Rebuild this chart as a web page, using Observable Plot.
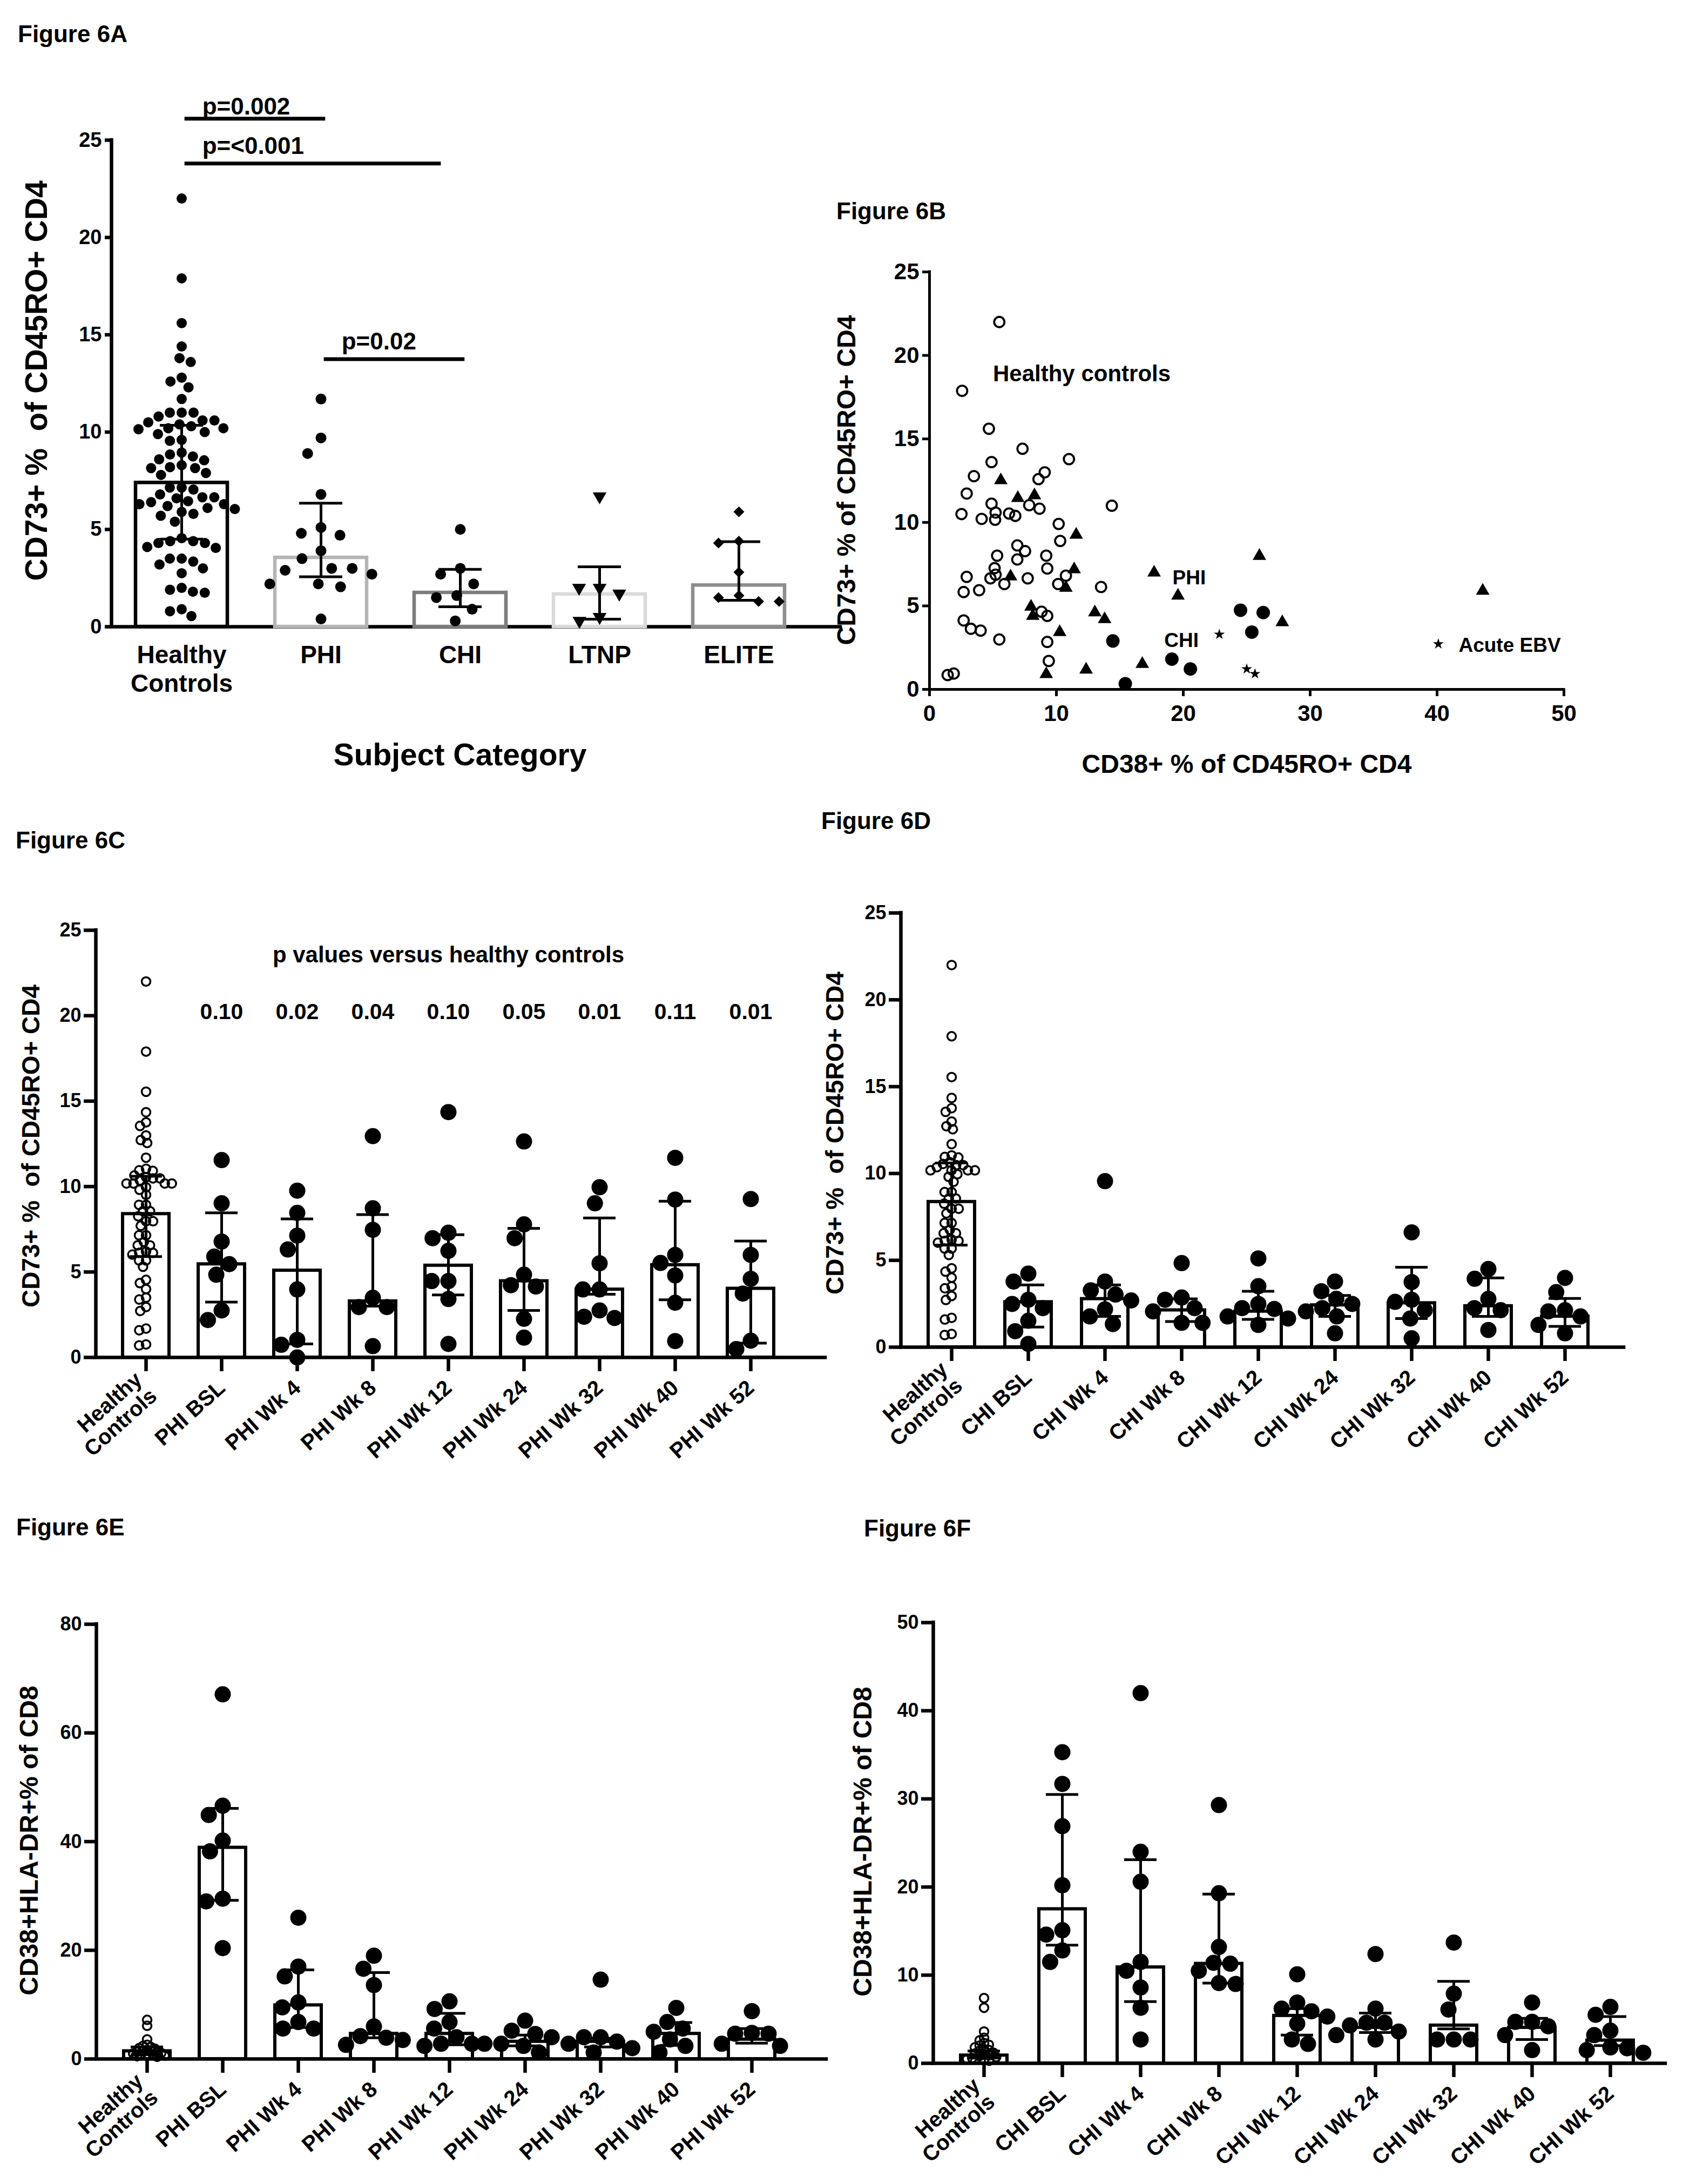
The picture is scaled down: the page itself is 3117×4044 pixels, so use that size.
<!DOCTYPE html>
<html>
<head>
<meta charset="utf-8">
<title>Figure 6</title>
<script src="https://cdn.jsdelivr.net/npm/d3@7"></script>
<script src="https://cdn.jsdelivr.net/npm/@observablehq/plot@0.6"></script>
<style>
  html, body { margin: 0; padding: 0; background: #ffffff; }
  #page { position: relative; width: 3117px; height: 4044px; background: #ffffff; overflow: hidden;
          font-family: 'Liberation Sans', Arial, Helvetica, sans-serif; color: #000; }
  #page svg text { font-weight: bold; }
</style>
</head>
<body>
<div id="page"></div>
<script>
// ======================= DATA =======================
// ---- Figure 6A ----
const catsA = ["Healthy\nControls", "PHI", "CHI", "LTNP", "ELITE"];
const hcA = [22.0, 17.9, 15.6, 14.4, 13.8, 13.6, 12.8, 12.6, 12.3, 11.7, 11.0, 11.0, 11.0, 10.8, 10.6, 10.6, 10.5, 10.4, 10.3, 10.2, 10.2, 10.15, 10.0, 9.9, 9.6, 9.55, 8.95, 8.85, 8.75, 8.6, 8.55, 8.3, 8.2, 8.15, 8.15, 7.9, 7.8, 7.15, 7.15, 7.05, 6.8, 6.65, 6.65, 6.6, 6.45, 6.4, 6.3, 6.3, 6.2, 6.1, 6.05, 5.9, 5.8, 5.7, 5.4, 4.55, 4.4, 4.4, 4.3, 4.3, 4.1, 4.05, 3.5, 3.5, 3.35, 3.2, 3.0, 2.75, 2.0, 1.9, 1.8, 1.75, 0.9, 0.8, 0.55];
const phiA = [11.7, 9.7, 8.9, 6.8, 5.1, 4.8, 4.7, 3.9, 3.5, 3.0, 3.0, 2.9, 2.7, 2.2, 2.2, 2.05, 0.4];
const chiA = [5.0, 3.0, 2.7, 2.2, 1.6, 1.5, 0.9, 0.3];
const ltnpA = [6.7, 2.0, 2.0, 1.7, 0.5, 0.3];
const eliteA = [5.9, 4.4, 4.3, 2.8, 1.6, 1.5, 1.3, 1.3];
const barA = [7.4, 3.55, 1.75, 1.67, 2.13];
const errLoA = [4.5, 2.57, 1.03, 0.39, 1.36];
const errHiA = [10.35, 6.35, 2.95, 3.08, 4.37];
const sigLabelA = ["p=0.002", "p=<0.001", "p=0.02"];
const sigFromA = [0.02, 0.02, 1.02];
const sigToA = [1.03, 1.86, 2.03];
const sigYA = [26.1, 23.8, 13.75];
const sigTextYA = [26.32, 24.3, 14.24];

// ---- Figure 6B ----
const hcBx = [5.5, 2.57, 4.68, 7.33, 10.99, 4.89, 9.08, 3.5, 8.59, 2.93, 14.37, 4.89, 7.86, 8.67, 2.52, 5.21, 6.27, 6.76, 4.11, 5.17, 10.18, 10.3, 6.92, 7.53, 5.33, 9.2, 6.92, 5.13, 9.28, 2.93, 4.8, 5.21, 7.74, 10.75, 5.9, 10.14, 13.52, 3.91, 2.69, 8.83, 9.28, 2.69, 3.26, 4.03, 5.5, 9.28, 9.4, 1.43, 1.91];
const hcBy = [22.0, 17.88, 15.61, 14.41, 13.79, 13.61, 13.0, 12.77, 12.59, 11.73, 11.0, 11.12, 11.03, 10.82, 10.5, 10.59, 10.53, 10.39, 10.21, 10.16, 9.91, 8.89, 8.62, 8.28, 8.01, 8.01, 7.78, 7.26, 7.24, 6.74, 6.65, 6.87, 6.65, 6.81, 6.31, 6.31, 6.13, 5.94, 5.83, 4.65, 4.4, 4.13, 3.63, 3.52, 2.99, 2.84, 1.7, 0.86, 0.95];
const phiBx = [5.62, 6.96, 8.27, 11.56, 26.0, 11.4, 17.7, 6.39, 10.75, 19.58, 43.6, 8.0, 8.14, 13.03, 13.8, 27.8, 10.26, 9.2, 12.34, 16.77];
const phiBy = [12.52, 11.46, 11.62, 9.26, 7.99, 7.19, 6.99, 6.76, 6.08, 5.61, 5.9, 4.95, 4.4, 4.61, 4.2, 4.02, 3.43, 0.91, 1.18, 1.52];
const chiBx = [14.45, 15.43, 19.1, 20.56, 24.51, 26.3, 25.4];
const chiBy = [2.9, 0.34, 1.81, 1.22, 4.74, 4.6, 3.43];
const ebvBx = [22.84, 25.0, 25.65];
const ebvBy = [3.29, 1.22, 0.93];
const annTextB = ["Healthy controls", "PHI", "CHI", "Acute EBV"];
const annXB = [5.0, 19.15, 18.5, 41.7];
const annYB = [18.9, 6.66, 2.91, 2.62];
const legendStarB = {x: 40.1, y: 2.72};

// ---- shared healthy controls (6C, 6D) ----
const hcCD = [22.0, 17.9, 15.55, 14.35, 13.76, 13.55, 12.99, 12.72, 12.55, 11.69, 11.04, 10.95, 10.92, 10.65, 10.55, 10.48, 10.48, 10.36, 10.18, 10.18, 10.18, 10.18, 9.96, 9.81, 9.52, 8.93, 8.93, 8.56, 8.56, 8.26, 7.97, 7.97, 7.7, 7.15, 7.15, 6.76, 6.56, 6.56, 6.2, 6.12, 6.12, 6.02, 5.68, 5.68, 5.31, 4.54, 4.35, 4.0, 3.5, 3.39, 2.95, 2.72, 1.69, 1.59, 0.76, 0.7];

// ---- Figure 6C ----
const catsC = ["Healthy\nControls", "PHI BSL", "PHI Wk 4", "PHI Wk 8", "PHI Wk 12", "PHI Wk 24", "PHI Wk 32", "PHI Wk 40", "PHI Wk 52"];
const phiC = [
  [11.55, 9.02, 6.78, 5.9, 5.46, 4.84, 2.75, 2.19],
  [9.76, 8.46, 7.13, 6.32, 3.98, 1.03, 0.74, 0.0],
  [12.95, 8.73, 7.47, 3.49, 2.95, 2.95, 0.66],
  [14.36, 7.3, 6.98, 6.24, 4.47, 4.47, 3.42, 0.79],
  [12.64, 7.79, 6.98, 4.84, 4.23, 4.15, 2.26, 1.16],
  [9.96, 9.02, 5.51, 3.98, 3.98, 2.75, 2.38, 2.31],
  [11.68, 9.24, 6.0, 5.53, 4.8, 3.2, 0.96],
  [9.27, 6.0, 4.6, 3.74, 0.98, 0.49]
];
const barC = [8.4, 5.46, 5.09, 3.29, 5.38, 4.47, 3.98, 5.41, 4.03];
const errLoC = [5.9, 3.24, 0.79, 3.0, 3.66, 2.75, 3.7, 3.37, 0.84];
const errHiC = [10.6, 8.46, 8.11, 8.36, 7.18, 7.55, 8.16, 9.14, 6.81];
const pHeaderC = "p values versus healthy controls";
const pValuesC = ["0.10", "0.02", "0.04", "0.10", "0.05", "0.01", "0.11", "0.01"];

// ---- Figure 6D ----
const catsD = ["Healthy\nControls", "CHI BSL", "CHI Wk 4", "CHI Wk 8", "CHI Wk 12", "CHI Wk 24", "CHI Wk 32", "CHI Wk 40", "CHI Wk 52"];
const chiD = [
  [4.24, 3.78, 2.73, 2.49, 2.25, 1.52, 0.92, 0.19],
  [9.56, 3.78, 3.27, 3.03, 2.69, 2.18, 1.77, 1.33],
  [4.84, 2.86, 2.73, 2.25, 2.06, 1.4, 1.4],
  [5.11, 3.51, 2.49, 2.25, 2.2, 1.77, 1.65, 1.28],
  [3.78, 3.22, 2.78, 2.49, 2.25, 2.06, 1.77, 0.8],
  [6.61, 3.75, 2.73, 2.61, 2.13, 1.65, 0.51],
  [4.5, 3.94, 2.78, 2.25, 2.13, 0.99],
  [3.99, 3.17, 2.13, 2.06, 1.77, 1.28, 0.8]
];
const barD = [8.37, 2.6, 2.78, 2.13, 2.06, 2.42, 2.54, 2.37, 1.77];
const errLoD = [5.88, 1.16, 1.77, 1.48, 1.6, 1.77, 1.65, 1.77, 1.2];
const errHiD = [10.6, 3.58, 3.58, 2.78, 3.22, 2.98, 4.6, 3.99, 2.81];

// ---- Figure 6E ----
const catsE = ["Healthy\nControls", "PHI BSL", "PHI Wk 4", "PHI Wk 8", "PHI Wk 12", "PHI Wk 24", "PHI Wk 32", "PHI Wk 40", "PHI Wk 52"];
const hcE = [7.2, 6.1, 3.6, 2.6, 2.4, 2.2, 2.0, 1.9, 1.7, 1.5, 1.4, 1.3, 1.2, 1.1, 1.0, 0.9, 0.8, 0.7, 0.6, 0.5, 0.4];
const phiE = [
  [67.1, 46.6, 44.9, 40.2, 38.2, 29.5, 29.0, 20.4],
  [26.0, 17.0, 15.2, 10.4, 9.5, 6.8, 5.6, 5.6],
  [19.0, 16.6, 13.6, 6.0, 4.2, 3.9, 3.5, 2.6],
  [10.6, 9.2, 6.8, 5.6, 4.0, 2.8, 2.8, 2.4],
  [7.05, 5.2, 4.6, 4.0, 2.8, 2.8, 2.4, 1.2],
  [14.6, 4.0, 4.0, 3.2, 2.8, 2.0, 1.2],
  [9.4, 6.8, 5.6, 5.0, 3.6, 2.4, 1.2],
  [8.8, 4.8, 4.65, 4.65, 2.8, 2.4]
];
const barE = [1.45, 38.9, 9.9, 4.65, 4.65, 3.2, 3.2, 4.65, 3.6];
const errLoE = [0.8, 29.2, 5.8, 3.9, 2.6, 2.4, 2.2, 2.5, 2.9];
const errHiE = [2.2, 46.1, 16.4, 15.9, 8.4, 4.4, 3.8, 6.7, 5.6];

// ---- Figure 6F ----
const catsF = ["Healthy\nControls", "CHI BSL", "CHI Wk 4", "CHI Wk 8", "CHI Wk 12", "CHI Wk 24", "CHI Wk 32", "CHI Wk 40", "CHI Wk 52"];
const hcF = [7.4, 6.3, 3.6, 2.9, 2.6, 2.3, 2.1, 2.0, 1.8, 1.6, 1.5, 1.4, 1.2, 1.1, 1.0, 0.9, 0.8, 0.7, 0.6, 0.5, 0.4, 0.3];
const chiF = [
  [35.3, 31.7, 26.9, 20.2, 15.1, 14.6, 12.8, 11.5],
  [42.0, 24.0, 20.6, 11.5, 10.5, 8.6, 6.3, 2.7],
  [29.3, 19.3, 13.2, 11.4, 11.3, 10.5, 9.1, 9.0],
  [10.1, 6.9, 6.2, 5.9, 5.3, 4.5, 2.7, 2.2],
  [12.4, 6.2, 4.6, 4.6, 4.3, 3.6, 3.2, 2.7],
  [13.7, 7.9, 6.1, 2.7, 2.7, 2.7],
  [6.9, 4.7, 4.7, 4.2, 3.2, 1.5],
  [6.4, 5.5, 3.7, 3.2, 1.8, 1.7, 1.5, 1.2]
];
const barF = [0.9, 17.5, 10.9, 11.3, 5.4, 4.05, 4.3, 4.05, 2.6];
const errLoF = [0.6, 13.4, 7.0, 9.1, 3.2, 3.5, 3.9, 2.7, 2.0];
const errHiF = [1.4, 30.5, 23.1, 19.2, 6.2, 5.7, 9.3, 5.1, 5.3];

// ======================= STYLE / LAYOUT =======================
const FONT = "'Liberation Sans', Arial, Helvetica, sans-serif";
const barStrokeA = ["#000000", "#b5b5b5", "#7d7d7d", "#dadada", "#8e8e8e"];
const triangleDown = {
  draw(ctx, size) {
    const y = -Math.sqrt(size / (Math.sqrt(3) * 3));
    ctx.moveTo(0, -y * 2);
    ctx.lineTo(-Math.sqrt(3) * y, y);
    ctx.lineTo(Math.sqrt(3) * y, y);
    ctx.closePath();
  }
};
const page = document.getElementById("page");

function place(svg, left, top, w, h) {
  const d = document.createElement("div");
  d.style.cssText = `position:absolute;left:${left}px;top:${top}px;width:${w}px;height:${h}px;`;
  d.appendChild(svg);
  page.appendChild(d);
}
function label(text, x, y, size, opt = {}) {
  const d = document.createElement("div");
  d.textContent = text;
  const tx = opt.anchor === "start" ? "0" : "-50%";
  d.style.cssText = `position:absolute;left:${x}px;top:${y}px;font-family:${FONT};font-weight:bold;font-size:${size}px;` +
    `white-space:pre;line-height:1;transform:translate(${tx},-50%)${opt.rotate ? ` rotate(${opt.rotate}deg)` : ""};`;
  page.appendChild(d);
}
const svgStyle = {fontFamily: FONT, color: "black", background: "transparent", overflow: "visible", maxWidth: "none"};

// deterministic beeswarm layout (pixel offsets) so points in a column do not overlap
function swarm(vals, gap, pxPerY) {
  const order = d3.range(vals.length).sort((a, b) => vals[b] - vals[a] || a - b);
  const placed = [], out = new Array(vals.length).fill(0);
  for (const i of order) {
    const y = vals[i] * pxPerY;
    const near = placed.filter(p => Math.abs(p.y - y) < gap);
    const cands = [0];
    for (const p of near) {
      const dx = Math.sqrt(gap * gap - (p.y - y) ** 2);
      cands.push(p.x - dx, p.x + dx);
    }
    cands.sort((a, b) => Math.abs(a) - Math.abs(b) || a - b);
    let best = 0;
    for (const c of cands) {
      if (near.every(p => (p.x - c) ** 2 + (p.y - y) ** 2 >= gap * gap - 0.01)) { best = c; break; }
    }
    placed.push({x: best, y});
    out[i] = best;
  }
  return out;
}

function barPanel(o) {
  const n = o.cats.length;
  const pxY = (o.y0 - o.yTop) / o.yMax;
  const xmin = (o.axisX - o.hc) / o.step;
  const xmax = (o.axisEnd - o.hc) / o.step;
  const bh = o.barHalf / o.step, ch = o.capHalf / o.step;
  const rows = o.cats.map((c, i) => ({i, bar: o.bar[i], lo: o.lo[i], hi: o.hi[i], stroke: o.barStroke ? o.barStroke[i] : "black"}));
  const marks = [
    Plot.ruleY([0], {x1: xmin, x2: xmax, stroke: "black", strokeWidth: o.axisW, strokeLinecap: "square"}),
    Plot.ruleX([xmin], {y1: 0, y2: o.yMax, stroke: "black", strokeWidth: o.axisW, strokeLinecap: "square"}),
    Plot.rect(rows, {x1: d => d.i - bh, x2: d => d.i + bh, y1: 0, y2: "bar", fill: "white", stroke: "stroke", strokeWidth: o.barW})
  ];
  o.groups.forEach((vals, gi) => {
    const st = o.marker(gi);
    const offs = swarm(vals, st.spacing, pxY);
    const data = vals.map((v, j) => ({x: gi + offs[j] / o.step, y: v}));
    marks.push(Plot.dot(data, {x: "x", y: "y", r: st.r, symbol: st.symbol || "circle",
      fill: st.fill, stroke: st.stroke || "none", strokeWidth: st.strokeWidth || 0}));
  });
  marks.push(
    Plot.ruleX(rows, {x: "i", y1: "lo", y2: "hi", stroke: "black", strokeWidth: o.errW}),
    Plot.ruleY(rows, {x1: d => d.i - ch, x2: d => d.i + ch, y: "hi", stroke: "black", strokeWidth: o.errW}),
    Plot.ruleY(rows, {x1: d => d.i - ch, x2: d => d.i + ch, y: "lo", stroke: "black", strokeWidth: o.errW}),
    Plot.axisY({ticks: o.yTicks, tickSize: o.yTickSize, tickPadding: o.yTickPad, fontSize: o.yFont,
      fontWeight: "bold", strokeWidth: o.axisW, label: null}),
    Plot.axisX({ticks: d3.range(n), tickFormat: i => o.cats[i], tickSize: o.xTickSize, tickPadding: o.xTickPad,
      tickRotate: o.rotate, fontSize: o.xFont, fontWeight: "bold", lineAnchor: o.lineAnchor,
      lineHeight: o.lineHeight, strokeWidth: o.axisW, label: null})
  );
  if (o.extra) marks.push(...o.extra());
  const svg = Plot.plot({
    width: o.width, height: o.height,
    marginLeft: o.axisX - o.left, marginRight: o.left + o.width - o.axisEnd,
    marginTop: o.yTop - o.top, marginBottom: o.top + o.height - o.y0,
    x: {domain: [xmin, xmax]}, y: {domain: [0, o.yMax]},
    color: {type: "identity"},
    style: svgStyle,
    marks
  });
  place(svg, o.left, o.top, o.width, o.height);
}

const smallPanel = {
  barHalf: 43, capHalf: 30, barW: 6, errW: 5, axisW: 6.5,
  yTickSize: 22, yTickPad: 5, yFont: 36,
  xTickSize: 26, xTickPad: 24, xFont: 40, rotate: -42, lineAnchor: "middle", lineHeight: 1.03,
  marker: gi => gi === 0
    ? {r: 8, fill: "none", stroke: "black", strokeWidth: 3.5, spacing: 13}
    : {r: 15, fill: "black", spacing: 31}
};

// ======================= FIGURE 6A =======================
const sigRowsA = sigLabelA.map((t, k) => ({t, x1: sigFromA[k], x2: sigToA[k], y: sigYA[k], ty: sigTextYA[k]}));
barPanel({
  cats: catsA, groups: [hcA, phiA, chiA, ltnpA, eliteA], bar: barA, lo: errLoA, hi: errHiA, barStroke: barStrokeA,
  yMax: 25, yTicks: [0, 5, 10, 15, 20, 25],
  left: 0, top: 100, width: 1600, height: 1220,
  axisX: 206, hc: 336, step: 258, axisEnd: 1556, y0: 1160, yTop: 259,
  barHalf: 85, capHalf: 40, barW: 6.5, errW: 5, axisW: 6.5,
  yTickSize: 12, yTickPad: 6, yFont: 38,
  xTickSize: 0, xTickPad: 30, xFont: 46, rotate: 0, lineAnchor: "top", lineHeight: 1.15,
  marker: gi => [
    {r: 9.5, fill: "black", spacing: 22},
    {r: 10, fill: "black", spacing: 38},
    {r: 10, fill: "black", spacing: 38},
    {r: 9.5, fill: "black", symbol: triangleDown, spacing: 38},
    {r: 9, fill: "black", symbol: "diamond2", spacing: 38}
  ][gi],
  extra: () => [
    Plot.link(sigRowsA, {x1: "x1", x2: "x2", y1: "y", y2: "y", stroke: "black", strokeWidth: 7}),
    Plot.text(sigRowsA, {x: "x1", y: "ty", text: "t", textAnchor: "start", lineAnchor: "bottom",
      dx: 33, fontSize: 44, fontWeight: "bold"})
  ]
});
label("Figure 6A", 33, 63, 44, {anchor: "start"});
label("CD73+ %  of CD45RO+ CD4", 67, 705, 57, {rotate: -90});
label("Subject Category", 852, 1397, 57);

// ======================= FIGURE 6B =======================
{
  const hc = hcBx.map((x, i) => ({x, y: hcBy[i]}));
  const phi = phiBx.map((x, i) => ({x, y: phiBy[i]}));
  const chi = chiBx.map((x, i) => ({x, y: chiBy[i]}));
  const ebv = ebvBx.map((x, i) => ({x, y: ebvBy[i]}));
  const ann = annTextB.map((t, i) => ({t, x: annXB[i], y: annYB[i]}));
  const left = 1500, top = 430, width = 1500, height = 1030;
  const x0px = 1721, x50px = 2896, y0px = 1276, y25px = 503;
  const svg = Plot.plot({
    width, height,
    marginLeft: x0px - left, marginRight: left + width - x50px,
    marginTop: y25px - top, marginBottom: top + height - y0px,
    x: {domain: [0, 50]}, y: {domain: [0, 25]},
    style: svgStyle,
    marks: [
      Plot.ruleY([0], {x1: 0, x2: 50, stroke: "black", strokeWidth: 5, strokeLinecap: "square"}),
      Plot.ruleX([0], {y1: 0, y2: 25, stroke: "black", strokeWidth: 5, strokeLinecap: "square"}),
      Plot.axisX({ticks: [0, 10, 20, 30, 40, 50], tickSize: 13, tickPadding: 16, fontSize: 42, fontWeight: "bold", strokeWidth: 5, label: null}),
      Plot.axisY({ticks: [0, 5, 10, 15, 20, 25], tickSize: 13, tickPadding: 6, fontSize: 42, fontWeight: "bold", strokeWidth: 5, label: null}),
      Plot.dot(hc, {x: "x", y: "y", r: 9.5, fill: "none", stroke: "black", strokeWidth: 3.8}),
      Plot.dot(phi, {x: "x", y: "y", r: 9.3, symbol: "triangle", fill: "black"}),
      Plot.dot(chi, {x: "x", y: "y", r: 12.5, fill: "black"}),
      Plot.dot(ebv, {x: "x", y: "y", r: 6.3, symbol: "star", fill: "black"}),
      Plot.dot([legendStarB], {x: "x", y: "y", r: 6.3, symbol: "star", fill: "black"}),
      Plot.text(ann.slice(0, 1), {x: "x", y: "y", text: "t", textAnchor: "start", fontSize: 42, fontWeight: "bold"}),
      Plot.text(ann.slice(1), {x: "x", y: "y", text: "t", textAnchor: "start", fontSize: 37, fontWeight: "bold"})
    ]
  });
  place(svg, left, top, width, height);
}
label("Figure 6B", 1549, 391, 44, {anchor: "start"});
label("CD73+ % of CD45RO+ CD4", 1568, 889, 48, {rotate: -90});
label("CD38+ % of CD45RO+ CD4", 2309, 1415, 48);

// ======================= FIGURE 6C =======================
barPanel(Object.assign({}, smallPanel, {
  cats: catsC, groups: [hcCD, ...phiC], bar: barC, lo: errLoC, hi: errHiC,
  yMax: 25, yTicks: [0, 5, 10, 15, 20, 25],
  left: 0, top: 1640, width: 1560, height: 1100,
  axisX: 177, hc: 270, step: 140, axisEnd: 1528, y0: 2513, yTop: 1722,
  extra: () => [
    Plot.text([pHeaderC], {x: (catsC.length - 1) / 2, y: 23.55, text: d => d, fontSize: 42, fontWeight: "bold"}),
    Plot.text(pValuesC, {x: (d, i) => i + 1, y: 20.2, text: d => d, fontSize: 41, fontWeight: "bold"})
  ]
}));
label("Figure 6C", 29, 1556, 44, {anchor: "start"});
label("CD73+ %  of CD45RO+ CD4", 57, 2122, 46, {rotate: -90});

// ======================= FIGURE 6D =======================
barPanel(Object.assign({}, smallPanel, {
  cats: catsD, groups: [hcCD, ...chiD], bar: barD, lo: errLoD, hi: errHiD,
  yMax: 25, yTicks: [0, 5, 10, 15, 20, 25],
  left: 1500, top: 1620, width: 1560, height: 1100,
  axisX: 1668, hc: 1762, step: 142, axisEnd: 3007, y0: 2494, yTop: 1690
}));
label("Figure 6D", 1521, 1520, 44, {anchor: "start"});
label("CD73+ %  of CD45RO+ CD4", 1546, 2098, 46, {rotate: -90});

// ======================= FIGURE 6E =======================
barPanel(Object.assign({}, smallPanel, {
  cats: catsE, groups: [hcE, ...phiE], bar: barE, lo: errLoE, hi: errHiE,
  yMax: 80, yTicks: [0, 20, 40, 60, 80],
  left: 0, top: 2920, width: 1560, height: 1124,
  axisX: 178, hc: 272, step: 140, axisEnd: 1530, y0: 3812, yTop: 3007,
  marker: gi => gi === 0
    ? {r: 8, fill: "none", stroke: "black", strokeWidth: 3.5, spacing: 8}
    : {r: 15, fill: "black", spacing: 31}
}));
label("Figure 6E", 30, 2828, 44, {anchor: "start"});
label("CD38+HLA-DR+% of CD8", 54, 3408, 48, {rotate: -90});

// ======================= FIGURE 6F =======================
barPanel(Object.assign({}, smallPanel, {
  cats: catsF, groups: [hcF, ...chiF], bar: barF, lo: errLoF, hi: errHiF,
  yMax: 50, yTicks: [0, 10, 20, 30, 40, 50],
  left: 1557, top: 2920, width: 1560, height: 1124,
  axisX: 1728, hc: 1822, step: 145, axisEnd: 3084, y0: 3820, yTop: 3004,
  marker: gi => gi === 0
    ? {r: 8, fill: "none", stroke: "black", strokeWidth: 3.5, spacing: 9.5}
    : {r: 15, fill: "black", spacing: 31}
}));
label("Figure 6F", 1600, 2830, 44, {anchor: "start"});
label("CD38+HLA-DR+% of CD8", 1598, 3410, 48, {rotate: -90});
</script>
</body>
</html>
